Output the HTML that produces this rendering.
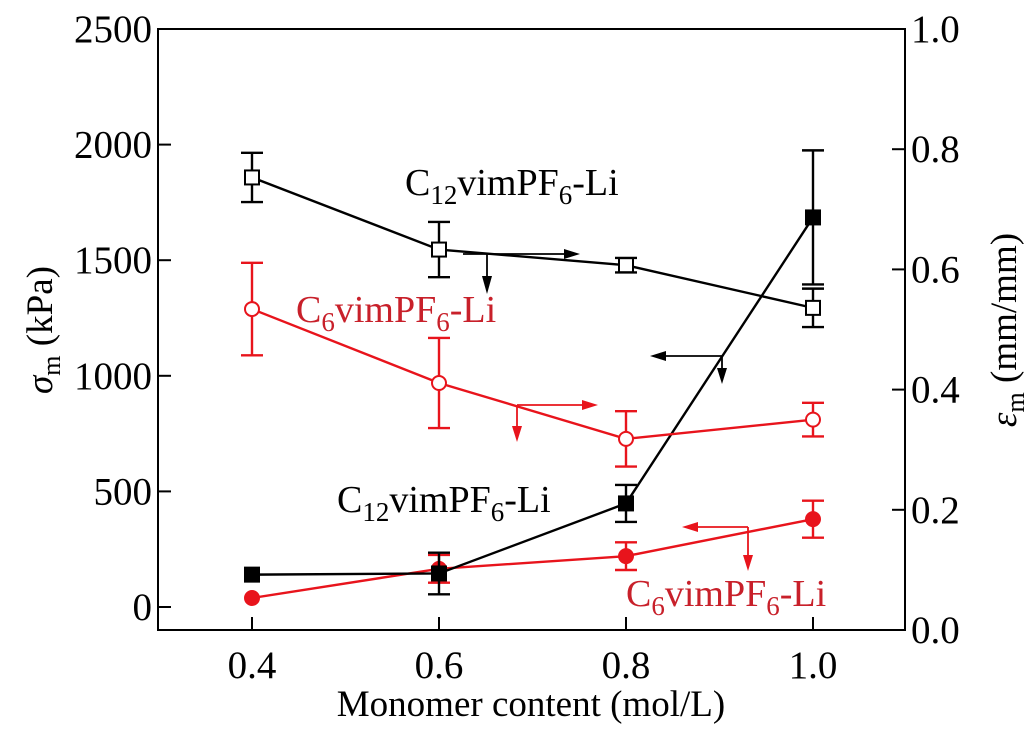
<!DOCTYPE html>
<html><head><meta charset="utf-8"><style>
html,body{margin:0;padding:0;background:#fff;}
svg text{font-family:"Liberation Serif",serif;}
</style></head><body>
<svg id="chart" width="1034" height="728" viewBox="0 0 1034 728" xmlns="http://www.w3.org/2000/svg">
<g id="axes"></g><g id="marks"></g>
<g font-size="38">
<text x="405" y="195" fill="#000">C<tspan font-size="27" dy="9">12</tspan><tspan dy="-9">vimPF</tspan><tspan font-size="27" dy="9">6</tspan><tspan dy="-9">-Li</tspan></text>
<text x="296" y="322" fill="#c8202a">C<tspan font-size="27" dy="9">6</tspan><tspan dy="-9">vimPF</tspan><tspan font-size="27" dy="9">6</tspan><tspan dy="-9">-Li</tspan></text>
<text x="337" y="512" fill="#000">C<tspan font-size="27" dy="9">12</tspan><tspan dy="-9">vimPF</tspan><tspan font-size="27" dy="9">6</tspan><tspan dy="-9">-Li</tspan></text>
<text x="626" y="606" fill="#c8202a">C<tspan font-size="27" dy="9">6</tspan><tspan dy="-9">vimPF</tspan><tspan font-size="27" dy="9">6</tspan><tspan dy="-9">-Li</tspan></text>
</g>
<g stroke-width="1.8">
<line x1="463" y1="254" x2="570" y2="254" stroke="#000"/><polygon points="580,254 564,249 564,259" fill="#000"/>
<line x1="487" y1="254" x2="487" y2="282" stroke="#000"/><polygon points="487,294 482,276 492,276" fill="#000"/>
<line x1="517" y1="405" x2="588" y2="405" stroke="#e8141c"/><polygon points="598,405 582,400 582,410" fill="#e8141c"/>
<line x1="517" y1="405" x2="517" y2="432" stroke="#e8141c"/><polygon points="517,442 512,426 522,426" fill="#e8141c"/>
<line x1="660" y1="356" x2="722" y2="356" stroke="#000"/><polygon points="650,356 666,351 666,361" fill="#000"/>
<line x1="722" y1="356" x2="722" y2="374" stroke="#000"/><polygon points="722,384 717,368 727,368" fill="#000"/>
<line x1="692" y1="527" x2="748" y2="527" stroke="#e8141c"/><polygon points="682,527 698,522 698,532" fill="#e8141c"/>
<line x1="748" y1="527" x2="748" y2="561" stroke="#e8141c"/><polygon points="748,571 743,555 753,555" fill="#e8141c"/>
</g>
</svg>
<script>
const xCats=[0.4,0.6,0.8,1.0];
const c12Strain=[0.753,0.633,0.607,0.536];
const c12StrainErr=[0.041,0.046,0.012,0.032];
const c6Strain=[0.534,0.411,0.318,0.350];
const c6StrainErr=[0.077,0.075,0.046,0.028];
const c12Stress=[140,145,448,1685];
const c12StressErr=[0,90,80,290];
const c6Stress=[39,165,220,380];
const c6StressErr=[0,60,60,80];
const leftTicks=[0,500,1000,1500,2000,2500];
const rightTicks=[0.0,0.2,0.4,0.6,0.8,1.0];
const xTicks=[0.4,0.6,0.8,1.0];

const L=158,R=905,T=29,B=630;
const X=v=>252+(v-0.4)*(813-252)/0.6;
const YL=v=>607-v*(607-29)/2500;
const YR=v=>B-v*(B-T)/1.0;
const NS="http://www.w3.org/2000/svg";
function el(tag,attrs,parent){const e=document.createElementNS(NS,tag);for(const k in attrs)e.setAttribute(k,attrs[k]);parent.appendChild(e);return e;}
const ax=document.getElementById('axes'),mk=document.getElementById('marks');
let frame=el('rect',{x:L,y:T,width:R-L,height:B-T,fill:'none',stroke:'#000','stroke-width':2},ax);


leftTicks.forEach(v=>{const y=YL(v);
 let t=el('line',{x1:L,x2:L+13,y1:y,y2:y,stroke:'#000','stroke-width':2},ax);
 
 
 let tx=el('text',{x:L-6,y:y+13,'text-anchor':'end','font-size':39},ax);tx.textContent=v;
 
 });
rightTicks.forEach(v=>{const y=YR(v);
 let t=el('line',{x1:R-13,x2:R,y1:y,y2:y,stroke:'#000','stroke-width':2},ax);
 
 
 let tx=el('text',{x:R+6,y:y+13,'font-size':39},ax);tx.textContent=v.toFixed(1);
 
 });
xTicks.forEach(v=>{const x=X(v);
 let t=el('line',{x1:x,x2:x,y1:B-13,y2:B,stroke:'#000','stroke-width':2},ax);
 
 
 let tx=el('text',{x:x,y:B+48,'text-anchor':'middle','font-size':39},ax);tx.textContent=v.toFixed(1);
 
 });
let xt=el('text',{x:531,y:716,'text-anchor':'middle','font-size':37},ax);xt.textContent='Monomer content (mol/L)';


let yl=el('text',{transform:'translate(52,330) rotate(-90)','text-anchor':'middle','font-size':37},ax);
yl.innerHTML='<tspan font-style="italic">σ</tspan><tspan font-size="26" dy="8">m</tspan><tspan dy="-8"> (kPa)</tspan>';


let yr=el('text',{transform:'translate(1016,330) rotate(-90)','text-anchor':'middle','font-size':37},ax);
yr.innerHTML='<tspan font-style="italic">ε</tspan><tspan font-size="26" dy="8">m</tspan><tspan dy="-8"> (mm/mm)</tspan>';



function series(vals,errs,Y,color,shape,filled,name){
 const g=el('g',{},mk);
 
 
 const pts=vals.map((v,i)=>X(xCats[i])+','+Y(v)).join(' ');
 el('polyline',{points:pts,fill:'none',stroke:color,'stroke-width':2.4},g);
 vals.forEach((v,i)=>{const x=X(xCats[i]);
  if(errs[i]>0){const y1=Y(v+errs[i]),y2=Y(v-errs[i]);
   el('line',{x1:x,x2:x,y1:y1,y2:y2,stroke:color,'stroke-width':2.4},g);
   el('line',{x1:x-11,x2:x+11,y1:y1,y2:y1,stroke:color,'stroke-width':2.4},g);
   el('line',{x1:x-11,x2:x+11,y1:y2,y2:y2,stroke:color,'stroke-width':2.4},g);}
  let m;
  if(shape==='sq')m=el('rect',{x:x-7,y:Y(v)-7,width:14,height:14,fill:filled?color:'#fff',stroke:color,'stroke-width':2},g);
  else m=el('circle',{cx:x,cy:Y(v),r:7,fill:filled?color:'#fff',stroke:color,'stroke-width':2},g);
  
  });
}
series(c6Stress,c6StressErr,YL,'#e8141c','ci',true,'c6-stress-series');
series(c12Stress,c12StressErr,YL,'#000','sq',true,'c12-stress-series');
series(c6Strain,c6StrainErr,YR,'#e8141c','ci',false,'c6-strain-series');
series(c12Strain,c12StrainErr,YR,'#000','sq',false,'c12-strain-series');
</script>
</body></html>
